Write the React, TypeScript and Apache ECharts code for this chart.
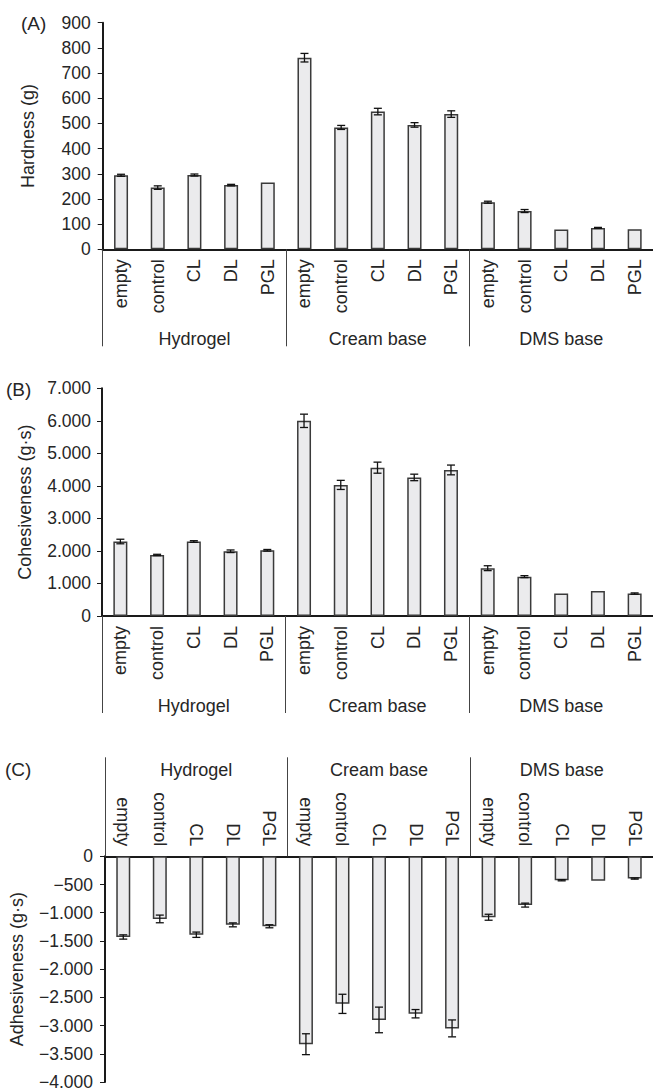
import React, { useEffect, useRef } from "react";
import * as echarts from "echarts";

// ---------- data ----------
const categories = [
  "empty", "control", "CL", "DL", "PGL",
  "empty", "control", "CL", "DL", "PGL",
  "empty", "control", "CL", "DL", "PGL",
];
const groups = ["Hydrogel", "Cream base", "DMS base"];

const hardness = [294, 245, 295, 255, 265, 761, 484, 547, 494, 537, 187, 152, 79, 85, 80];
const hardnessErr = [4, 7, 4, 3, 0, 17, 8, 13, 9, 13, 4, 6, 0, 2, 0];

const cohesiveness = [2290, 1877, 2290, 1990, 2020, 6000, 4030, 4560, 4260, 4490, 1470, 1210, 690, 770, 690];
const cohesivenessErr = [70, 20, 25, 40, 25, 205, 140, 170, 100, 150, 75, 30, 0, 0, 20];

const adhesiveness = [-1430, -1110, -1390, -1215, -1240, -3330, -2615, -2900, -2790, -3050, -1080, -865, -425, -435, -395];
const adhesivenessErr = [38, 68, 47, 35, 27, 185, 170, 227, 74, 150, 53, 35, 10, 0, 10];

const hardnessTicks = { min: 0, max: 900, interval: 100 };
const cohesivenessTicks = { min: 0, max: 7000, interval: 1000 };
const adhesivenessTicks = { min: -4000, max: 0, interval: 500 };

const panelLabels = ["(A)", "(B)", "(C)"];
const axisNames = ["Hardness (g)", "Cohesiveness (g\u00b7s)", "Adhesiveness (g\u00b7s)"];

// ---------- helpers ----------
const FONT = "'Liberation Sans', Arial, Helvetica, sans-serif";
const TXT = "#262626";
const keys = categories.map((_, i) => String(i));

function fmtThousands(v: number): string {
  const a = Math.abs(v);
  let s: string;
  if (a >= 1000) {
    s = Math.floor(a / 1000) + "." + String(a % 1000).padStart(3, "0");
  } else s = String(a);
  return (v < 0 ? "\u2212" : "") + s;
}

function mainX(gridIndex: number, position: string) {
  return {
    type: "category",
    gridIndex,
    position,
    data: keys,
    boundaryGap: true,
    axisLine: { show: true, onZero: false, lineStyle: { color: "#1a1a1a", width: 2 } },
    axisTick: { show: false },
    splitLine: { show: false },
    axisLabel: {
      interval: 0,
      rotate: 90,
      margin: 10,
      fontSize: 18,
      fontFamily: FONT,
      color: TXT,
      formatter: (_v: string, idx: number) => categories[idx],
    },
  };
}

function groupX(gridIndex: number, position: string, tickLen: number, labelMargin: number) {
  return {
    type: "category",
    gridIndex,
    position,
    data: groups,
    boundaryGap: true,
    axisLine: { show: false, onZero: false },
    axisTick: { show: true, interval: 0, length: tickLen, lineStyle: { color: "#444", width: 1 } },
    splitLine: { show: false },
    axisLabel: { interval: 0, margin: labelMargin, fontSize: 18, fontFamily: FONT, color: TXT },
  };
}

function yAx(gridIndex: number, ticks: any, name: string, nameGap: number, margin: number, fmt: any) {
  return {
    type: "value",
    gridIndex,
    min: ticks.min,
    max: ticks.max,
    interval: ticks.interval,
    name,
    nameLocation: "middle",
    nameGap,
    nameTextStyle: { fontSize: 18, fontFamily: FONT, color: TXT },
    axisLine: { show: true, onZero: false, lineStyle: { color: "#1a1a1a", width: 2 } },
    axisTick: { show: true, length: 5, lineStyle: { color: "#1a1a1a", width: 1 } },
    splitLine: { show: false },
    axisLabel: { fontSize: 17.5, fontFamily: FONT, color: TXT, margin, formatter: fmt },
  };
}

function barSeries(vals: number[], xi: number, yi: number) {
  return {
    type: "bar",
    xAxisIndex: xi,
    yAxisIndex: yi,
    data: vals,
    barWidth: 14,
    itemStyle: { color: "#ebebed", borderColor: "#3a3a3a", borderWidth: 1.5 },
    z: 2,
  };
}

function errSeries(vals: number[], errs: number[], xi: number, yi: number) {
  return {
    type: "custom",
    xAxisIndex: xi,
    yAxisIndex: yi,
    data: vals.map((v, i) => [i, v, errs[i]]),
    encode: { x: 0, y: 1 },
    z: 10,
    renderItem: (_p: any, api: any) => {
      const i = api.value(0);
      const v = api.value(1);
      const e = api.value(2);
      if (!e) return null;
      const p1 = api.coord([i, v + e]);
      const p2 = api.coord([i, v - e]);
      const w = 4;
      const style = { stroke: "#111", lineWidth: 1.3 };
      return {
        type: "group",
        children: [
          { type: "line", shape: { x1: p1[0], y1: p1[1], x2: p2[0], y2: p2[1] }, style },
          { type: "line", shape: { x1: p1[0] - w, y1: p1[1], x2: p1[0] + w, y2: p1[1] }, style },
          { type: "line", shape: { x1: p2[0] - w, y1: p2[1], x2: p2[0] + w, y2: p2[1] }, style },
        ],
      };
    },
  };
}

export default function App() {
  const ref = useRef<HTMLDivElement>(null);
  useEffect(() => {
    if (!ref.current) return;
    const chart = echarts.init(ref.current, null, { renderer: "svg" });
    const option: any = {
      animation: false,
      backgroundColor: "#ffffff",
      grid: [
        { left: 102.7, top: 22.7, width: 556, height: 226.6 },
        { left: 102, top: 388.3, width: 556, height: 227.7 },
        { left: 104, top: 856.3, width: 556, height: 226.4 },
      ],
      xAxis: [
        mainX(0, "bottom"),
        groupX(0, "bottom", 97, 81),
        mainX(1, "bottom"),
        groupX(1, "bottom", 97, 81),
        mainX(2, "top"),
        groupX(2, "top", 99, 77),
      ],
      yAxis: [
        yAx(0, hardnessTicks, axisNames[0], 66, 12, (v: number) => String(v)),
        yAx(1, cohesivenessTicks, axisNames[1], 68, 11, fmtThousands),
        yAx(2, adhesivenessTicks, axisNames[2], 79, 12, fmtThousands),
      ],
      series: [
        barSeries(hardness, 0, 0),
        errSeries(hardness, hardnessErr, 0, 0),
        barSeries(cohesiveness, 2, 1),
        errSeries(cohesiveness, cohesivenessErr, 2, 1),
        barSeries(adhesiveness, 4, 2),
        errSeries(adhesiveness, adhesivenessErr, 4, 2),
      ],
      graphic: [
        { type: "text", left: 21, top: 14, style: { text: panelLabels[0], fontSize: 19, fontFamily: FONT, fill: TXT } },
        { type: "text", left: 6, top: 380, style: { text: panelLabels[1], fontSize: 19, fontFamily: FONT, fill: TXT } },
        { type: "text", left: 5, top: 760, style: { text: panelLabels[2], fontSize: 19, fontFamily: FONT, fill: TXT } },
      ],
    };
    chart.setOption(option);
    return () => chart.dispose();
  }, []);
  return (
    <div
      ref={ref}
      style={{ position: "absolute", left: 0, top: 0, width: 653, height: 1091, background: "#fff" }}
    />
  );
}
